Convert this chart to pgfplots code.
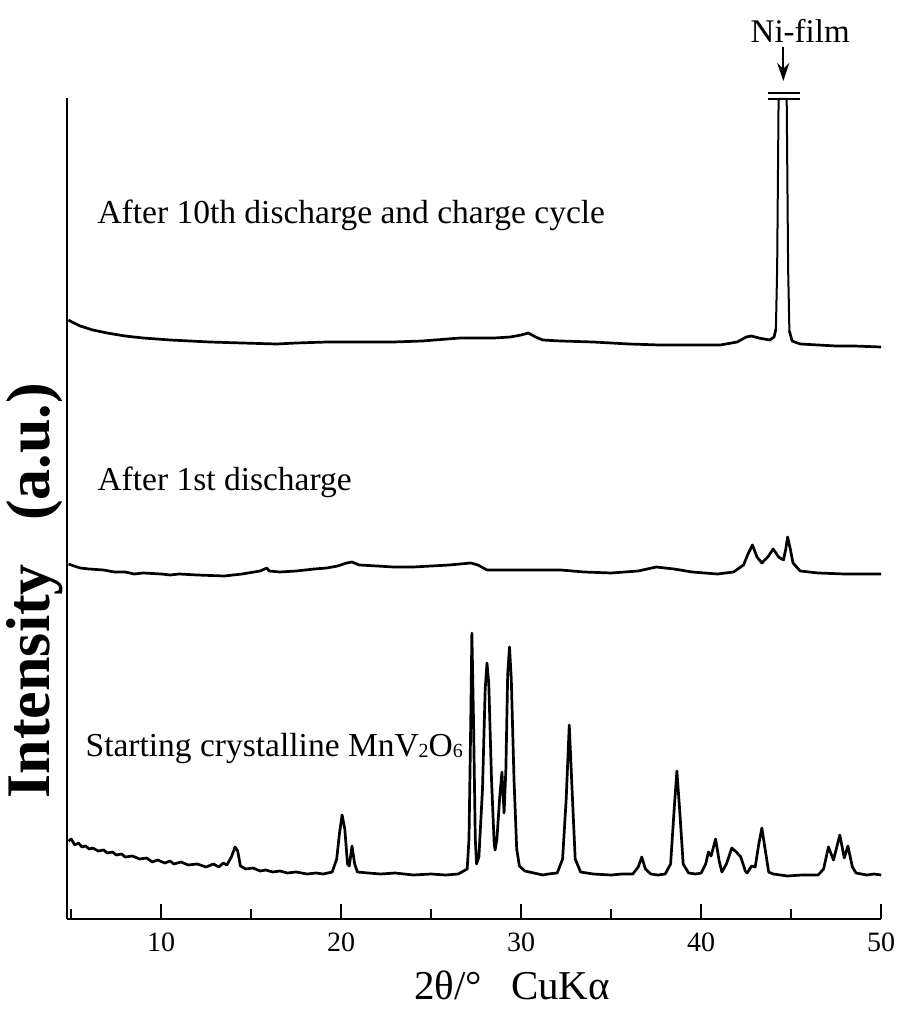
\documentclass[border=0pt]{standalone}
\usepackage{fontspec}
\setmainfont{Liberation Serif}
\usepackage{pgfplots}
\pgfplotsset{compat=1.18}
\usetikzlibrary{arrows.meta}
\begin{document}
\begin{tikzpicture}
\useasboundingbox (-33.35pt,-45pt) rectangle (415.65pt,459.5pt);
\begin{axis}[
  at={(0pt,0pt)}, anchor=south west,
  scale only axis, width=407.25pt, height=410.5pt,
  xmin=4.75, xmax=50, ymin=0, ymax=821,
  axis x line*=bottom, axis y line*=left,
  axis line style={-, line width=1pt},
  xtick={10,20,30,40,50}, minor xtick={5,15,25,35,45},
  ytick=\empty,
  tick align=inside,
  major tick length=7.5pt, minor tick length=5pt,
  every tick/.style={black, line width=0.9pt},
  /pgf/number format/assume math mode=true,
  xticklabel style={font=\fontsize{14}{16}\selectfont, yshift=-3.5pt},
  clip=false,
]
% Starting crystalline MnV2O6
\addplot[black, line width=1.35pt, line join=round] coordinates {
(4.85,78)(5.0,80)(5.2,74)(5.4,76)(5.6,72)(5.8,73)(6.0,70)(6.2,71)(6.5,68)(6.8,69)(7.0,66)(7.3,67)(7.5,64)(7.8,65)(8.0,62)(8.4,63)(8.8,60)(9.2,61)(9.5,57)(9.8,59)
(10.2,56)(10.5,58)(10.7,55)(11.1,57)(11.5,54)(12.0,55)(12.5,52)(12.9,55)(13.2,52)(13.45,56)(13.65,54)(13.9,62)(14.1,72)(14.25,68)(14.4,53)
(14.7,50)(15.1,51)(15.5,48)(15.8,49)(16.2,47)(16.6,48)(17.0,46)(17.5,47)(18.1,45)(18.6,46)(19.0,45)(19.5,47)(19.75,60)(19.9,85)(20.05,104)
(20.2,90)(20.35,55)(20.45,53)(20.6,73)(20.75,55)(20.9,47)(21.5,46)(22.2,45)(23,46)(24,44)(25,45)(25.8,44)(26.5,45)
(27.0,50)(27.1,80)(27.2,200)(27.26,286)(27.35,200)(27.45,80)(27.52,55)(27.65,62)(27.85,130)(28.0,230)
(28.1,256)(28.2,235)(28.35,140)(28.5,75)(28.55,69)(28.65,80)(28.8,120)(28.93,147)(29.05,106)(29.15,150)
(29.25,245)(29.35,272)(29.45,240)(29.6,140)(29.75,70)(29.9,53)(30.2,48)(30.7,46)(31.2,44)(31.5,45)(32.0,46)
(32.3,60)(32.5,120)(32.67,194)(32.85,120)(33.0,60)(33.3,47)(34,45)(35,44)(35.6,45)(36.2,45)(36.5,52)(36.7,62)
(36.9,50)(37.2,45)(37.6,44)(38.0,45)(38.3,55)(38.5,110)(38.65,148)(38.8,110)(39.0,55)(39.3,46)(39.7,45)(40.0,46)
(40.25,55)(40.4,67)(40.55,63)(40.8,80)(41.0,58)(41.15,47)(41.4,55)(41.7,71)(41.95,67)(42.2,62)
(42.45,48)(42.55,46)(42.8,53)(43.0,52)(43.2,75)(43.37,91)(43.55,70)(43.75,47)(44,45)(44.8,43)(45.6,44)(46.5,44)
(46.8,50)(47.07,72)(47.35,59)(47.7,84)(47.95,61)(48.15,73)(48.4,52)(48.6,46)(49.2,44)(49.6,45)(50,44)
};
% After 1st discharge
\addplot[black, line width=1.35pt, line join=round] coordinates {
(4.85,355)(5.0,354)(5.5,351)(6.0,350)(6.8,349)(7.4,347)(8,347)(8.5,345)(9,346)(10,345)(10.5,344)(11,345)(12,344)
(13.5,343)(14.5,345)(15.5,348)(15.87,351)(16.0,348)(16.6,347)(17.5,348)(18.5,350)(19.2,351)(19.8,353)
(20.3,356)(20.6,357)(21.0,354)(22.0,353)(22.9,352)(24,352)(25,353)(26,354)(27.2,356)(27.6,354)
(28.1,349)(29,349)(30,349)(31,349)(32.2,349)(33.5,347)(35,346)(36.5,348)(37.5,352)(38.5,350)
(39.5,347)(40.9,345)(41.8,347)(42.35,354)(42.6,365)(42.85,374)(43.1,362)(43.37,356)(43.7,362)(44.0,370)
(44.3,362)(44.57,359)(44.7,370)(44.8,382)(44.95,370)(45.1,356)(45.5,348)(46.5,346)(48,345)(49,345)
(50,345)
};
% After 10th discharge and charge cycle
\addplot[black, line width=1.35pt, line join=round] coordinates {
(4.85,599)(5.04,597)(5.5,593)(6.2,589)(7.0,586)(8.0,583)(9.0,581)(10.5,579)(12.7,577)(14.5,576)
(16.4,575)(17.5,576)(19.2,577)(21,577)(22.9,577)(24.5,578)(26.6,581)(28.5,581)(29.4,582)(30.0,584)
(30.4,586)(30.8,582)(31.2,579)(32.2,578)(34,577)(36,575)(37.7,574)(39.5,574)(41.05,574)(42.0,577)
(42.5,582)(42.8,583)(43.2,581)(43.8,579)(44.05,582)(44.15,590)
};
% Ni-film peak (thin outline)
\addplot[black, line width=1pt, line join=round] coordinates {
(44.15,590)(44.22,650)(44.3,820)(44.75,820)(44.83,650)(44.9,588)
};
\addplot[black, line width=1.35pt, line join=round] coordinates {
(44.9,588)(45.05,578)(45.5,575)(46.5,574)(47.5,573)(48.5,573)(50,572)
};
% break marks at the top of the Ni peak
\addplot[black, line width=1pt] coordinates {(43.7,820)(45.5,820)};
\addplot[black, line width=1pt] coordinates {(43.7,825.5)(45.5,825.5)};
% annotations
\draw[black, line width=1pt, -{Stealth[length=9pt,width=6pt]}] (axis cs:44.56,872) -- (axis cs:44.56,838);
\node[font=\fontsize{16.5}{18}\selectfont, inner sep=0pt] at (axis cs:45.5,888) {Ni-film};
\node[font=\fontsize{16.75}{19}\selectfont, inner sep=0pt, anchor=west] at (axis cs:6.44,704) {After 10th discharge and charge cycle};
\node[font=\fontsize{16.75}{19}\selectfont, inner sep=0pt, anchor=west] at (axis cs:6.44,437) {After 1st discharge};
\node[font=\fontsize{16.75}{19}\selectfont, inner sep=0pt, anchor=west] at (axis cs:5.78,171) {Starting crystalline MnV\raisebox{-0.1ex}{\fontsize{10}{10}\selectfont 2}O\raisebox{-0.1ex}{\fontsize{10}{10}\selectfont 6}};
\node[font=\fontsize{20.5}{24}\selectfont, inner sep=0pt] at (rel axis cs:0.547,0) [yshift=-33pt] {2θ/°\hspace{0.7em}CuKα};
\node[font=\fontsize{31}{34}\selectfont\bfseries, inner sep=0pt, rotate=90] at ([xshift=-16pt]rel axis cs:0,0.40) {Intensity\hspace{0.7em}(a.u.)};
\end{axis}
\end{tikzpicture}
\end{document}
